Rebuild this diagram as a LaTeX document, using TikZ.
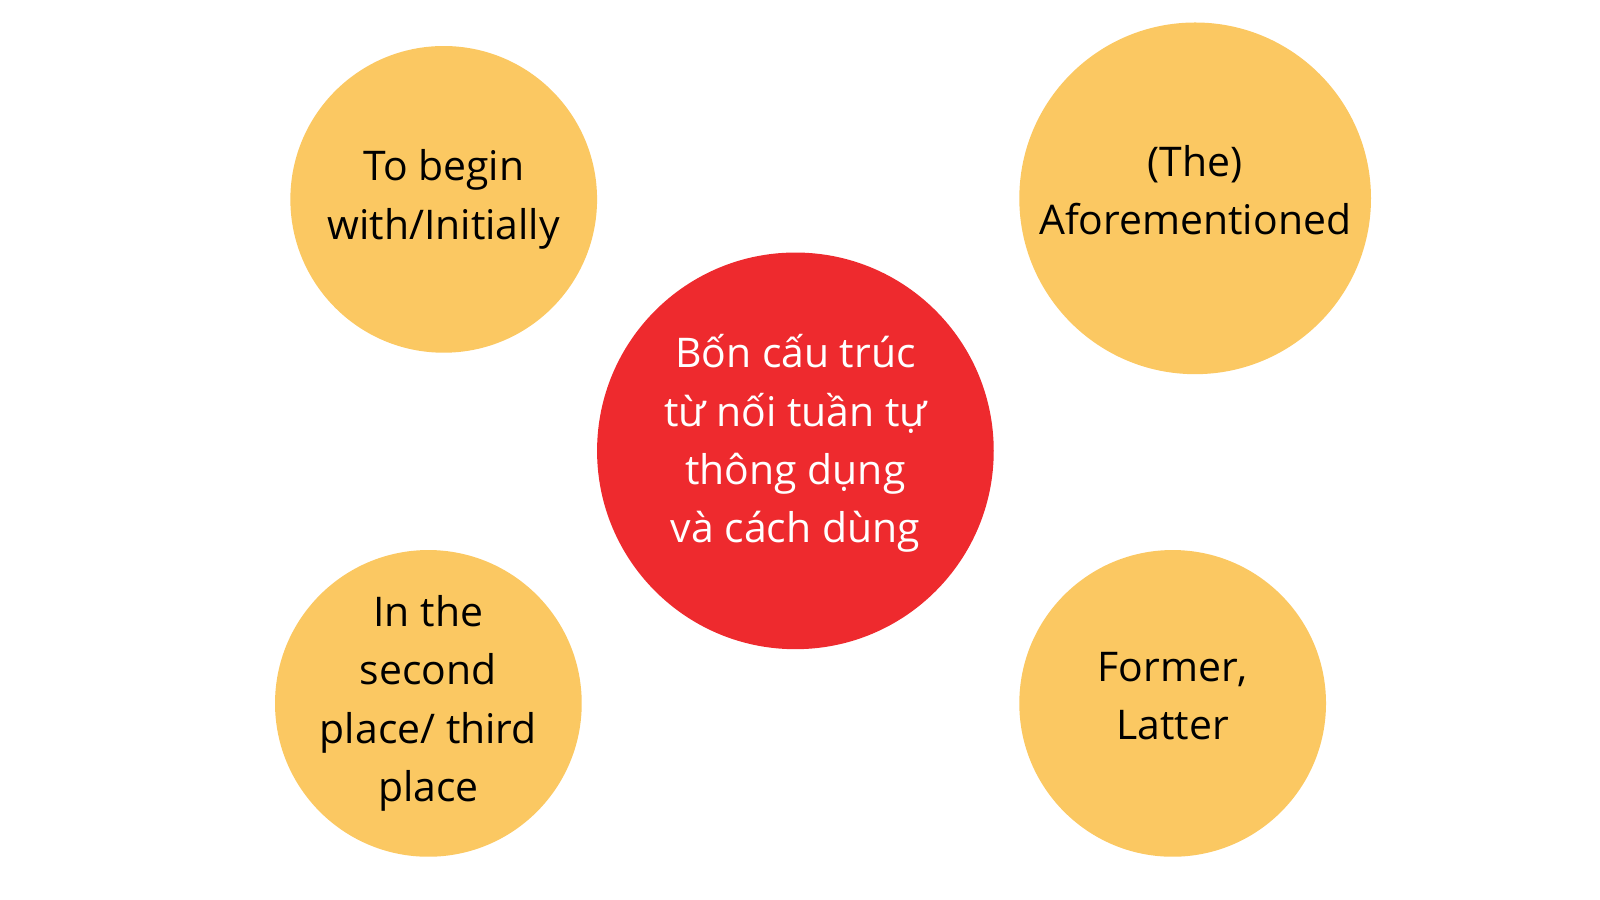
\documentclass[tikz,border=0pt]{standalone}
\usepackage{fontspec}
\setmainfont{Open Sans}
\definecolor{sunyellow}{HTML}{FBC862}
\definecolor{hubred}{HTML}{EE2A2E}
\tikzset{
  hub/.style={circle, fill=hubred, inner sep=0pt},
  leaf/.style={circle, fill=sunyellow, inner sep=0pt},
  big/.style={align=center, inner sep=0pt, font=\fontsize{40}{57}\selectfont}
}
\begin{document}
\begin{tikzpicture}[x=1pt, y=-1pt]
\useasboundingbox (0,0) rectangle (1565,879.4);
% circles
\node [hub, minimum size=388pt] at (778,441) (hub) {};
\node [leaf, minimum size=300pt] at (434,195) (begin) {};
\node [leaf, minimum size=344pt] at (1169,194) (afore) {};
\node [leaf, minimum size=300pt] at (419,688) (second) {};
\node [leaf, minimum size=300pt] at (1147,688) (former) {};
% labels
\node [big, text=white] at ([yshift=7pt]hub.center) (hubtext) {Bốn cấu trúc\\từ nối tuần tự\\thông dụng\\và cách dùng};
\node [big] at (begin.center) (begintext) {To begin\\with/Initially};
\node [big] at ([yshift=8pt]afore.center) (aforetext) {(The)\\Aforementioned};
\node [big] at (second.center) (secondtext) {In the\\second\\place/ third\\place};
\node [big] at ([yshift=7pt]former.center) (formertext) {Former,\\Latter};
\end{tikzpicture}
\end{document}
